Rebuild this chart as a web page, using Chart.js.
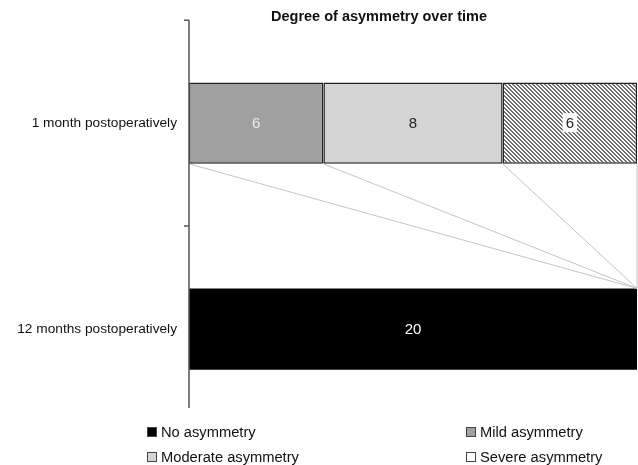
<!DOCTYPE html>
<html>
<head>
<meta charset="utf-8">
<script src="https://cdn.jsdelivr.net/npm/chart.js@4.4.1/dist/chart.umd.min.js"></script>
<style>
html, body { margin: 0; padding: 0; background: #fff; }
#wrap { position: relative; width: 638px; height: 465px; }
#overlay { position: absolute; left: 0; top: 0; width: 638px; height: 465px; pointer-events: none;
  font-family: "Liberation Sans", Arial, sans-serif; color: #111; }
#title { position: absolute; left: 379px; top: 8px; transform: translateX(-50%); font-weight: bold; font-size: 14.5px; white-space: nowrap; }
.item { position: absolute; display: flex; align-items: center; white-space: nowrap; font-size: 14.7px; line-height: 18px; }
.box { width: 10px; height: 10px; border: 1px solid #444; margin-right: 4px; box-sizing: border-box; }
</style>
</head>
<body>
<div id="wrap">
  <canvas id="asymChart" width="638" height="465"></canvas>
  <div id="overlay">
    <div id="title">Degree of asymmetry over time</div>
    <div id="legend"></div>
  </div>
</div>
<script>
// data
const categories = ['1 month postoperatively', '12 months postoperatively'];
const seriesNames = ['No asymmetry', 'Mild asymmetry', 'Moderate asymmetry', 'Severe asymmetry'];
const noAsymmetry = [null, 20];
const mildAsymmetry = [6, null];
const moderateAsymmetry = [8, null];
const severeAsymmetry = [6, null];

// diagonal hatch for the severe segment
function makeHatch() {
    const c = document.createElement('canvas');
    c.width = 4; c.height = 4;
    const g = c.getContext('2d');
    g.fillStyle = '#fafafa';
    g.fillRect(0, 0, 4, 4);
    g.fillStyle = '#707070';
    for (let y = 0; y < 4; y++) {
        for (let x = 0; x < 4; x++) {
            const d = ((x - y) % 4 + 4) % 4;
            if (d === 0 || d === 1) g.fillRect(x, y, 1, 1);
        }
    }
    return document.getElementById('asymChart').getContext('2d').createPattern(c, 'repeat');
}

const legendFill = ['#000', '#a0a0a0', '#d4d4d4', '#fff'];
const labelColor = ['#fff', '#ececec', '#222', '#222'];

// legend (HTML, two columns)
const legendPos = [[147, 423], [466, 423], [147, 448], [466, 448]];
const legendEl = document.getElementById('legend');
seriesNames.forEach((name, i) => {
    const d = document.createElement('div');
    d.className = 'item';
    d.style.left = legendPos[i][0] + 'px';
    d.style.top = legendPos[i][1] + 'px';
    d.innerHTML = '<span class="box" style="background:' + legendFill[i] + '"></span>' + name;
    legendEl.appendChild(d);
});

// series lines, value labels and the category axis line
const extrasPlugin = {
    id: 'extras',
    afterDatasetsDraw(chart) {
        const ctx = chart.ctx;
        const xs = chart.scales.x;
        const ys = chart.scales.y;
        const sets = chart.data.datasets;

        // bar edges from the elements
        function barEdges(idx) {
            for (let d = 0; d < sets.length; d++) {
                if (sets[d].data[idx] != null) {
                    const el = chart.getDatasetMeta(d).data[idx];
                    return { top: el.y - el.height / 2, bottom: el.y + el.height / 2 };
                }
            }
        }
        const b0 = barEdges(0);
        const b1 = barEdges(1);

        ctx.save();
        ctx.strokeStyle = '#c4c4c4';
        ctx.lineWidth = 1;
        let sum0 = 0, sum1 = 0;
        sets.forEach(ds => {
            sum0 += ds.data[0] || 0;
            sum1 += ds.data[1] || 0;
            ctx.beginPath();
            ctx.moveTo(xs.getPixelForValue(sum0), b0.bottom);
            ctx.lineTo(xs.getPixelForValue(sum1), b1.top);
            ctx.stroke();
        });

        // value labels
        ctx.font = '15px "Liberation Sans", Arial, sans-serif';
        ctx.textAlign = 'center';
        ctx.textBaseline = 'middle';
        sets.forEach((ds, d) => {
            chart.getDatasetMeta(d).data.forEach((el, i) => {
                const v = ds.data[i];
                if (v == null) return;
                const cx = (el.x + el.base) / 2;
                const cy = el.y;
                const txt = String(v);
                if (d === 3) {
                    const w = ctx.measureText(txt).width + 6;
                    ctx.fillStyle = '#fff';
                    ctx.fillRect(cx - w / 2, cy - 10, w, 19);
                }
                ctx.fillStyle = labelColor[d];
                ctx.fillText(txt, cx, cy + 1);
            });
        });

        // category axis line with tick marks
        const ax = chart.chartArea.left;
        const top = ys.top;
        const mid = (ys.getPixelForValue(0) + ys.getPixelForValue(1)) / 2;
        ctx.strokeStyle = '#555';
        ctx.lineWidth = 1.5;
        ctx.beginPath();
        ctx.moveTo(ax, top);
        ctx.lineTo(ax, ys.bottom - 24);
        ctx.moveTo(ax - 5, top);
        ctx.lineTo(ax, top);
        ctx.moveTo(ax - 5, mid);
        ctx.lineTo(ax, mid);
        ctx.stroke();
        ctx.restore();
    }
};

function initAsymChart() {
    const hatch = makeHatch();
    const ctx = document.getElementById('asymChart');
    new Chart(ctx.getContext('2d'), {
        type: 'bar',
        data: {
            labels: categories,
            datasets: [
                {
                    label: seriesNames[0],
                    data: noAsymmetry,
                    backgroundColor: '#000',
                    borderWidth: 0
                },
                {
                    label: seriesNames[1],
                    data: mildAsymmetry,
                    backgroundColor: '#a0a0a0',
                    borderColor: '#222',
                    borderWidth: 1.5,
                    borderSkipped: false
                },
                {
                    label: seriesNames[2],
                    data: moderateAsymmetry,
                    backgroundColor: '#d4d4d4',
                    borderColor: '#222',
                    borderWidth: 1.5,
                    borderSkipped: false
                },
                {
                    label: seriesNames[3],
                    data: severeAsymmetry,
                    backgroundColor: hatch,
                    borderColor: '#222',
                    borderWidth: 1.5,
                    borderSkipped: false
                }
            ]
        },
        options: {
            indexAxis: 'y',
            responsive: false,
            animation: false,
            devicePixelRatio: 1,
            layout: { padding: { top: 18, bottom: 33, right: 1, left: 0 } },
            datasets: { bar: { categoryPercentage: 1, barPercentage: 0.395 } },
            plugins: {
                legend: { display: false },
                title: { display: false },
                tooltip: { enabled: false }
            },
            scales: {
                x: {
                    stacked: true,
                    display: false,
                    min: 0,
                    max: 20
                },
                y: {
                    stacked: true,
                    grid: { display: false, drawTicks: false },
                    border: { display: false },
                    ticks: {
                        padding: 12,
                        color: '#111',
                        font: { family: '"Liberation Sans", Arial, sans-serif', size: 13.7 }
                    },
                    afterFit(scale) { scale.width = 189; }
                }
            }
        },
        plugins: [extrasPlugin]
    });
}

document.addEventListener('DOMContentLoaded', initAsymChart);
</script>
</body>
</html>
